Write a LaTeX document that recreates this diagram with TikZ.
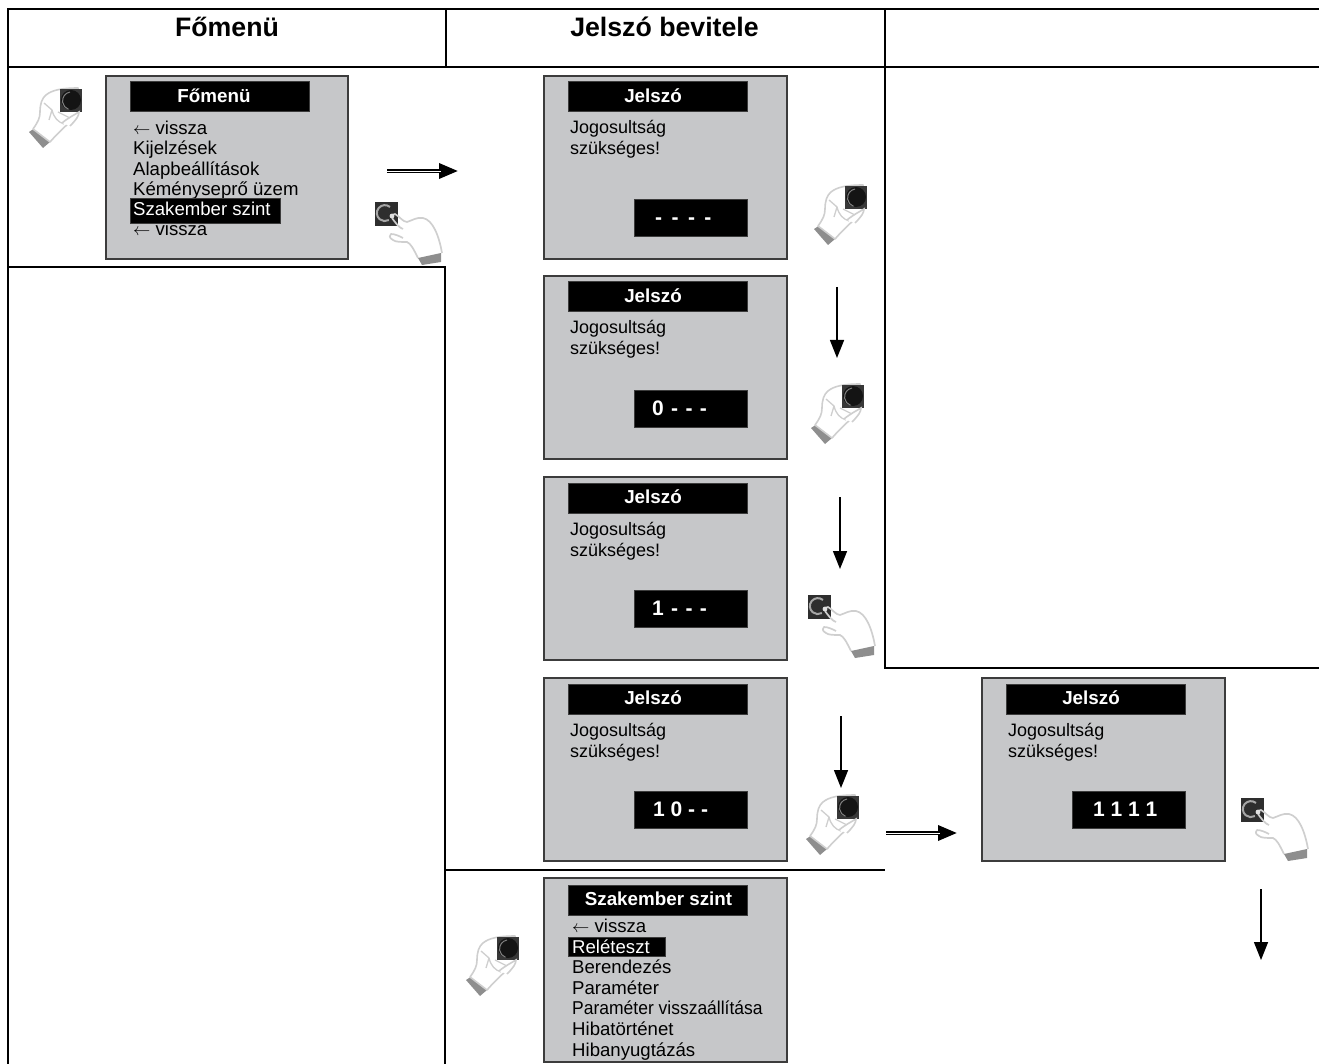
\documentclass[tikz,border=0pt]{standalone}
\usepackage{fontspec}
\setmainfont{Liberation Sans}
\usetikzlibrary{arrows.meta}
\definecolor{panelgray}{HTML}{C6C7C9}
\definecolor{panelline}{HTML}{3C3C3C}
\definecolor{handline}{HTML}{CFCFCF}
\definecolor{cuff}{HTML}{8E8E8E}
\newcommand{\bodyfs}{\fontsize{18}{20}\selectfont}
\newcommand{\menufs}{\fontsize{18.6}{20}\selectfont}
\newcommand{\gp}{\kern3.6pt}
\tikzset{
  grid/.style={line width=1.8pt,black,line cap=rect},
  panel/.style={draw=panelline,fill=panelgray,line width=2pt,anchor=north west,inner sep=0pt,outer sep=0pt,minimum width=242.7pt},
  titlebar/.style={draw=panelline,fill=black,line width=1pt,anchor=north west,inner sep=0pt,outer sep=0pt,minimum height=30pt,minimum width=179pt},
  titletext/.style={text=white,anchor=base,inner sep=0pt,font=\bfseries\fontsize{18.8}{20}\selectfont},
  valuebox/.style={draw=panelline,fill=black,line width=1pt,anchor=north west,inner sep=0pt,outer sep=0pt,minimum height=37pt,minimum width=113pt},
  valuetext/.style={text=white,anchor=base west,inner sep=0pt,font=\bfseries\fontsize{21}{22}\selectfont},
  menuline/.style={anchor=base west,inner sep=0pt,font=\menufs},
  noteline/.style={anchor=base west,inner sep=0pt,font=\bodyfs},
  hilite/.style={draw=panelline,fill=black,line width=1pt,anchor=north west,inner sep=0pt,outer sep=0pt},
  heading/.style={anchor=base,inner sep=0pt,font=\bfseries\fontsize{26.7}{28}\selectfont},
  singlearrow/.style={line width=1.5pt,-{Triangle[length=18pt,width=14pt]}},
  doublearrow/.style={line width=3.4pt,black,-{Triangle[length=19pt,width=15pt]}},
  doubleinner/.style={line width=0.9pt,white},
  knobhand/.pic={
    \fill[cuff] (-53,44) -- (-47,40) -- (-32,54) -- (-39,60) -- cycle;
    \draw[handline,line width=1.6pt,line join=round,fill=white]
      (-49,41) .. controls (-44,34) and (-42,30) .. (-42,24)
      .. controls (-42,16) and (-40,10) .. (-36,7)
      .. controls (-30,2) and (-20,0) .. (-4,0) -- (-4,24)
      .. controls (-8,32) and (-18,38) .. (-32,54) -- cycle;
    \fill[black!78] (-22,1) rectangle (0,24);
    \fill[black!92] (-11,12) circle (10pt);
    \draw[black!50,line width=1pt] (-12,4) arc (100:250:9pt);
    \draw[handline,line width=1.3pt] (-38,15) -- (-30,22) -- (-33,32) (-30,22) .. controls (-28,30) and (-24,34) .. (-18,36)
      (-24,24) -- (-12,30);
    \draw[handline,line width=1.6pt,fill=white] (-20,35) .. controls (-14,30) and (-8,27) .. (-3,24) .. controls (-3,28) and (-6,32) .. (-12,38);
  },
  pushhand/.pic={
    \fill[black!82] (0,0) rectangle (23,24);
    \draw[black!35,line width=2pt] (15,5) arc (50:300:8pt);
    \fill[cuff] (43,56) -- (66,51) -- (66,60) -- (47,63) -- cycle;
    \draw[handline,line width=1.7pt,line join=round]
      (17,13) -- (20,12) .. controls (24,14) and (28,20) .. (32,20)
      .. controls (38,18) and (42,15) .. (48,16)
      .. controls (58,18) and (64,34) .. (67,51)
      (43,56) .. controls (38,46) and (36,42) .. (32,40)
      .. controls (26,40) and (20,40) .. (18,38)
      .. controls (14,36) and (14,33) .. (16,32) .. controls (20,32) and (24,34) .. (28,36)
      (17,16) .. controls (20,20) and (24,26) .. (28,27);
    \fill[black!12] (17,14) circle (2.4pt);
  }
}
% name, x, y, value box offset, value text x, value text
\newcommand{\jelszopanel}[6]{%
  \node[panel,minimum height=183pt] (#1) at (#2,#3+1) {};
  \node[titlebar] (#1t) at (#2+24,#3+7) {};
  \node[titletext] (#1tt) at (#2+109,#3+27.5) {Jelszó};
  \node[noteline] (#1a) at (#2+26,#3+59) {Jogosultság};
  \node[noteline] (#1b) at (#2+26,#3+80) {szükséges!};
  \node[valuebox] (#1v) at (#2+90,#3+#4) {};
  \node[valuetext] (#1vt) at (#5,#3+#4+25) {#6};
}
\begin{document}
\begin{tikzpicture}[x=1pt,y=-1pt]
\useasboundingbox (0,0) rectangle (1319,1064);
% grid
\coordinate (gTL) at (8,9); \coordinate (gTR) at (1319,9);
\coordinate (gML) at (8,67); \coordinate (gMR) at (1319,67);
\coordinate (gBL) at (8,1064);
\draw[grid] (gBL) -- (gTL) -- (gTR);
\draw[grid] (gML) -- (gMR);
\draw[grid] (446,9) -- (446,67);
\draw[grid] (885,9) -- (885,668) -- (1319,668);
\draw[grid] (8,267) -- (445,267) -- (445,1064);
\draw[grid] (445,870) -- (884,870);
\node[heading] (hA) at (227,37) {Főmenü};
\node[heading] (hB) at (664.5,37) {Jelszó bevitele};
% main menu panel
\node[panel,minimum height=183pt] (pMain) at (105.5,76) {};
\node[titlebar] (pMainT) at (130,82) {};
\node[titletext] (pMainTT) at (214,102.5) {Főmenü};
\node[menuline] (m1) at (133,135) {$\leftarrow$ vissza};
\node[menuline] (m2) at (133,155) {Kijelzések};
\node[menuline] (m3) at (133,176) {Alapbeállítások};
\node[menuline] (m4) at (133,196) {Kéményseprő üzem};
\node[menuline] (m6) at (133,236) {$\leftarrow$ vissza};
\node[hilite,minimum width=150pt,minimum height=25pt] (m5b) at (130,199) {};
\node[menuline,text=white] (m5) at (133,216) {Szakember szint};
% password panels
\jelszopanel{p1}{544}{75}{125}{655}{-\gp\ -\gp\ -\gp\ -}
\jelszopanel{p2}{544}{275}{115}{652}{0\kern1.5pt\ -\kern1.5pt\ -\kern1.5pt\ -}
\jelszopanel{p3}{544}{476}{114}{652}{1\kern1.5pt\ -\kern1.5pt\ -\kern1.5pt\ -}
\jelszopanel{p4}{544}{677}{114}{653}{1 0 - -}
\jelszopanel{p5}{982}{677}{114}{1093}{1 1 1 1}
% specialist panel
\node[panel,minimum height=183.4pt] (pS) at (544,878.3) {};
\node[titlebar] (pST) at (568,885) {};
\node[titletext] (pSTT) at (658.5,905.5) {Szakember szint};
\node[menuline] (s1) at (572,932) {$\leftarrow$ vissza};
\node[hilite,minimum width=97pt,minimum height=19pt] (s2b) at (568,937) {};
\node[menuline,text=white] (s2) at (572,953) {Reléteszt};
\node[menuline] (s3) at (572,973) {Berendezés};
\node[menuline] (s4) at (572,994) {Paraméter};
\node[menuline] (s5) at (572,1014) {\scalebox{0.94}[1]{Paraméter visszaállítása}};
\node[menuline] (s6) at (572,1035) {Hibatörténet};
\node[menuline] (s7) at (572,1056) {Hibanyugtázás};
% hands
\pic at (82,88) {knobhand};
\pic at (867,185) {knobhand};
\pic at (864,384) {knobhand};
\pic at (859,795) {knobhand};
\pic at (519,936) {knobhand};
\pic at (375,202) {pushhand};
\pic at (808,595) {pushhand};
\pic at (1241,798) {pushhand};
% arrows
\coordinate (a1s) at (387,171); \coordinate (a1e) at (458,171);
\coordinate (a1m) at (441,171);
\draw[doublearrow] (a1s) -- (a1e);
\draw[doubleinner] (a1s) -- (a1m);
\coordinate (a2s) at (886,833); \coordinate (a2e) at (957,833);
\coordinate (a2m) at (940,833);
\draw[doublearrow] (a2s) -- (a2e);
\draw[doubleinner] (a2s) -- (a2m);
\coordinate (d1s) at (837,287); \coordinate (d1e) at (837,358);
\coordinate (d2s) at (840,497); \coordinate (d2e) at (840,569);
\coordinate (d3s) at (841,716); \coordinate (d3e) at (841,788);
\coordinate (d4s) at (1261,889); \coordinate (d4e) at (1261,960);
\draw[singlearrow] (d1s) -- (d1e);
\draw[singlearrow] (d2s) -- (d2e);
\draw[singlearrow] (d3s) -- (d3e);
\draw[singlearrow] (d4s) -- (d4e);
\end{tikzpicture}
\end{document}
